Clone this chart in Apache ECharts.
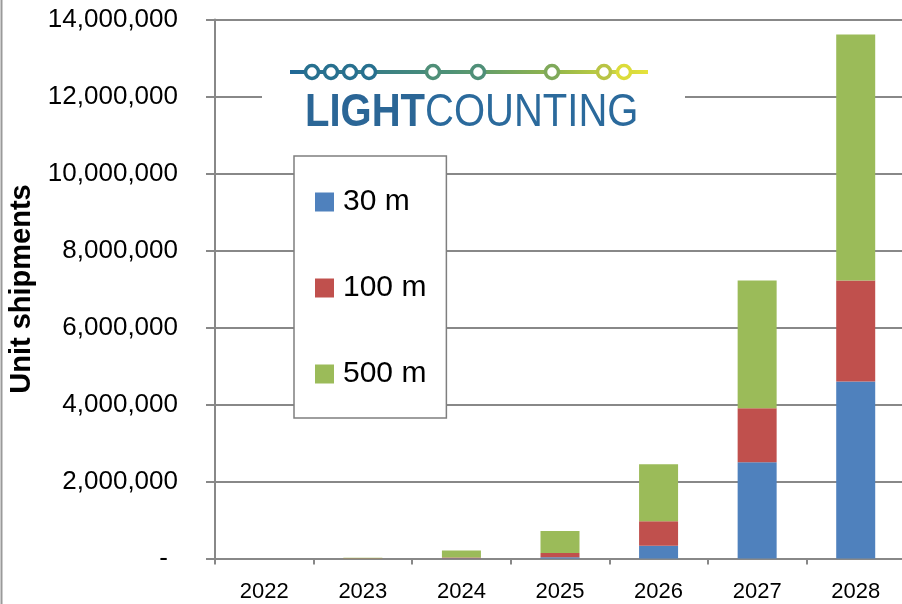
<!DOCTYPE html>
<html>
<head>
<meta charset="utf-8">
<script src="https://cdn.jsdelivr.net/npm/echarts@6/dist/echarts.min.js"></script>
<style>
  html, body { margin: 0; padding: 0; background: #fff; }
  #chart { width: 902px; height: 604px; }
</style>
</head>
<body>
<div id="chart"></div>
<script>
// ---- Data (unit shipments) ----
const years = ['2022', '2023', '2024', '2025', '2026', '2027', '2028'];
const seriesNames = ['30 m', '100 m', '500 m'];
const ship30m  = [0, 2000, 5000, 30000, 330000, 2500000, 4600000];
const ship100m = [0, 3000, 20000, 110000, 640000, 1400000, 2620000];
const ship500m = [0, 15000, 180000, 575000, 1480000, 3320000, 6390000];
const yTicks = { min: 0, max: 14000000, interval: 2000000 };
const yTitle = 'Unit shipments';
const logoLight = 'LIGHT';
const logoCounting = 'COUNTING';
const logoCircleX = [312, 331, 350, 369, 433, 478, 552, 604, 624];

const colors = ['#4F81BD', '#C0504D', '#9BBB59'];
const gridColor = '#888888';
const FONT = '"Liberation Sans", Arial, sans-serif';

const chart = echarts.init(document.getElementById('chart'), null, { renderer: 'canvas' });

const logoGraphics = [
  { type: 'rect', shape: { x: 262, y: 40, width: 423, height: 95 }, style: { fill: '#ffffff' }, z: 50 },
  {
    type: 'line', shape: { x1: 290, y1: 72, x2: 648, y2: 72 },
    style: {
      lineWidth: 4,
      stroke: new echarts.graphic.LinearGradient(0, 0, 1, 0, [
        { offset: 0, color: '#1f6797' }, { offset: 0.45, color: '#4e9276' },
        { offset: 0.75, color: '#97b84a' }, { offset: 1, color: '#e9e43a' }
      ])
    }, z: 51
  }
];
logoCircleX.forEach(function (cx) {
  const t = (cx - 290) / (648 - 290);
  const c = t < 0.3 ? '#27708f' : (t < 0.55 ? '#4f8f78' : (t < 0.75 ? '#7fa95a' : (t < 0.9 ? '#b9c444' : '#dcdc3a')));
  logoGraphics.push({
    type: 'circle', shape: { cx: cx, cy: 72, r: 6.5 },
    style: { fill: '#ffffff', stroke: c, lineWidth: 3.5 }, z: 52
  });
});
logoGraphics.push({
  type: 'text', x: 305, y: 113, scaleX: 0.87, originX: 0, originY: 0, z: 52,
  style: {
    text: '{b|' + logoLight + '}{r|' + logoCounting + '}',
    verticalAlign: 'middle',
    rich: {
      b: { fontFamily: FONT, fontSize: 46, fontWeight: 'bold', fill: '#2b6696' },
      r: { fontFamily: FONT, fontSize: 46, fontWeight: 'normal', fill: '#2b6a9c' }
    }
  }
});

const option = {
  backgroundColor: '#ffffff',
  animation: false,
  color: colors,
  textStyle: { fontFamily: FONT, color: '#000' },
  grid: { left: 215, top: 19.5, width: 690, height: 539, containLabel: false, outerBoundsMode: 'none' },
  legend: {
    orient: 'vertical',
    left: 294, top: 156,
    data: seriesNames,
    icon: 'rect',
    itemWidth: 19, itemHeight: 19,
    itemGap: 56,
    padding: [31, 20, 29, 21],
    backgroundColor: '#ffffff',
    borderColor: '#7f7f7f',
    borderWidth: 1.5,
    borderRadius: 0,
    selectedMode: false,
    z: 60,
    textStyle: { fontFamily: FONT, fontSize: 30, color: '#000', lineHeight: 30, padding: [0, 0, 0, 4] }
  },
  xAxis: {
    type: 'category',
    data: years,
    boundaryGap: true,
    axisLine: { show: true, lineStyle: { color: gridColor, width: 2 } },
    axisTick: { show: true, length: 6, alignWithLabel: false, lineStyle: { color: gridColor, width: 2 } },
    axisLabel: { fontFamily: FONT, fontSize: 22, color: '#000', margin: 22, interval: 0 },
    splitLine: { show: false }
  },
  yAxis: {
    type: 'value',
    min: yTicks.min, max: yTicks.max, interval: yTicks.interval,
    name: yTitle,
    nameLocation: 'middle',
    nameRotate: 90,
    nameGap: 177,
    nameTextStyle: { fontFamily: FONT, fontSize: 29, fontWeight: 'bold', color: '#000' },
    axisLine: { show: true, lineStyle: { color: gridColor, width: 2 } },
    axisTick: { show: true, inside: false, length: 9, lineStyle: { color: gridColor, width: 2 } },
    axisLabel: {
      fontFamily: FONT, fontSize: 26, color: '#000', margin: 37,
      formatter: function (v) { return v === 0 ? '{d|-}' : v.toLocaleString('en-US'); },
      rich: { d: { fontFamily: FONT, fontSize: 26, color: '#000', padding: [0, 10, 0, 0] } }
    },
    splitLine: { show: true, lineStyle: { color: gridColor, width: 2 } }
  },
  series: [
    { name: seriesNames[0], type: 'bar', stack: 'total', barWidth: 39, data: ship30m, itemStyle: { color: colors[0] } },
    { name: seriesNames[1], type: 'bar', stack: 'total', barWidth: 39, data: ship100m, itemStyle: { color: colors[1] } },
    { name: seriesNames[2], type: 'bar', stack: 'total', barWidth: 39, data: ship500m, itemStyle: { color: colors[2] } }
  ],
  graphic: [
    { type: 'line', shape: { x1: 1.5, y1: 0, x2: 1.5, y2: 604 }, style: { stroke: '#9a9a9a', lineWidth: 2 }, z: 10 }
  ].concat(logoGraphics)
};

chart.setOption(option);
</script>
</body>
</html>
